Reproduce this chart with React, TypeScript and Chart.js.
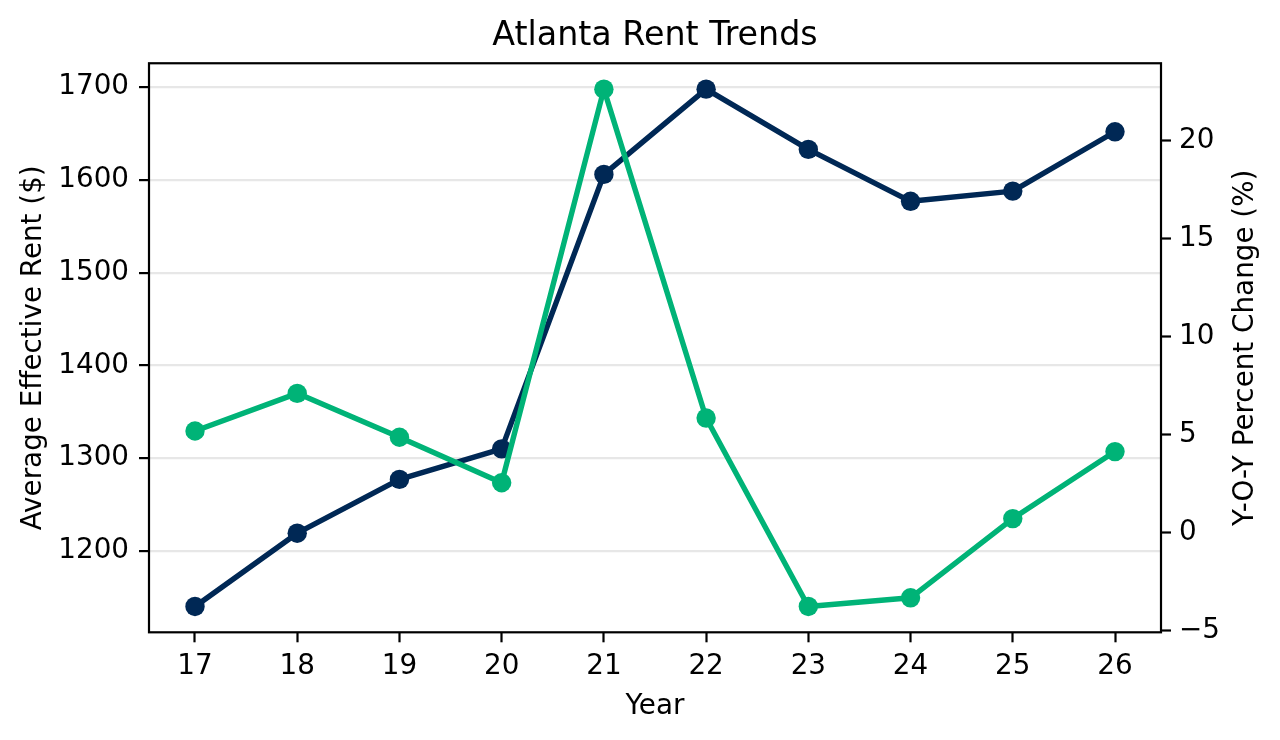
import { useEffect, useRef } from 'react';
import { Chart, registerables } from 'chart.js';
import type { Plugin } from 'chart.js';

Chart.register(...registerables);

// Datos
const years = [17, 18, 19, 20, 21, 22, 23, 24, 25, 26];
const averageRent = [1140, 1219, 1277, 1310, 1606, 1698, 1633, 1577, 1588, 1652];
const yoyChange = [5.19, 7.11, 4.87, 2.55, 22.63, 5.85, -3.76, -3.32, 0.72, 4.14];

const rentTicks = [1200, 1300, 1400, 1500, 1600, 1700];
const pctTicks = [-5, 0, 5, 10, 15, 20];
const pctTickLabels = ['\u22125', '0', '5', '10', '15', '20'];

const NAVY = '#002855';
const GREEN = '#00b377';
const FONT = 'DejaVu Sans';
const RIGHT_TITLE = 'Y-O-Y Percent Change (%)';

// margen de 5% como matplotlib
function paddedRange(values: number[]) {
	const lo = Math.min(...values);
	const hi = Math.max(...values);
	const pad = (hi - lo) * 0.05;
	return { min: lo - pad, max: hi + pad };
}

// marco negro alrededor del área del gráfico
const framePlugin: Plugin<'line'> = {
	id: 'frame',
	afterDatasetsDraw(chart) {
		const { ctx, chartArea } = chart;
		ctx.save();
		ctx.strokeStyle = '#000';
		ctx.lineWidth = 2.2;
		ctx.strokeRect(chartArea.left, chartArea.top, chartArea.right - chartArea.left, chartArea.bottom - chartArea.top);
		ctx.restore();
	},
};

// título del eje derecho, leído de abajo hacia arriba (Chart.js lo gira al revés)
const rightTitlePlugin: Plugin<'line'> = {
	id: 'rightTitle',
	afterDraw(chart) {
		const { ctx, chartArea, width } = chart;
		ctx.save();
		ctx.translate(width - 34.7, (chartArea.top + chartArea.bottom) / 2);
		ctx.rotate(-Math.PI / 2);
		ctx.font = `27.8px "${FONT}"`;
		ctx.fillStyle = '#000';
		ctx.textAlign = 'center';
		ctx.textBaseline = 'middle';
		ctx.fillText(RIGHT_TITLE, 0, 0);
		ctx.restore();
	},
};

function RentChart() {
	const canvasRef = useRef<HTMLCanvasElement | null>(null);

	useEffect(() => {
		if (!canvasRef.current) return;

		const xRange = paddedRange(years);
		const rentRange = paddedRange(averageRent);
		const pctRange = paddedRange(yoyChange);

		const tickGrid = {
			drawOnChartArea: false,
			tickColor: '#000',
			tickWidth: 2.2,
			tickLength: 10,
		};

		const chart = new Chart(canvasRef.current, {
			type: 'line',
			data: {
				datasets: [
					{
						label: 'Average Effective Rent ($)',
						data: years.map((yr, i) => ({ x: yr, y: averageRent[i] })),
						yAxisID: 'y',
						borderColor: NAVY,
						backgroundColor: NAVY,
						pointBackgroundColor: NAVY,
						borderWidth: 5.4,
						pointRadius: 9.7,
						pointBorderWidth: 0,
						borderJoinStyle: 'round',
						order: 1,
					},
					{
						label: RIGHT_TITLE,
						data: years.map((yr, i) => ({ x: yr, y: yoyChange[i] })),
						yAxisID: 'y1',
						borderColor: GREEN,
						backgroundColor: GREEN,
						pointBackgroundColor: GREEN,
						borderWidth: 5.4,
						pointRadius: 9.7,
						pointBorderWidth: 0,
						borderJoinStyle: 'round',
						order: 0,
					},
				],
			},
			options: {
				animation: false,
				responsive: true,
				maintainAspectRatio: false,
				layout: { padding: 0 },
				plugins: {
					legend: { display: false },
					tooltip: { enabled: false },
					title: {
						display: true,
						text: 'Atlanta Rent Trends',
						fullSize: false,
						color: '#000',
						font: { family: FONT, size: 33.3, weight: 'normal' },
						padding: { top: 16, bottom: 7.3 },
					},
				},
				scales: {
					x: {
						type: 'linear',
						min: xRange.min,
						max: xRange.max,
						afterBuildTicks: (scale) => {
							scale.ticks = years.map((v) => ({ value: v }));
						},
						afterFit: (scale) => {
							scale.height = 107.7;
						},
						border: { display: false },
						grid: tickGrid,
						ticks: {
							color: '#000',
							padding: 8,
							font: { family: FONT, size: 27.8 },
							callback: (v) => String(v),
						},
						title: {
							display: true,
							text: 'Year',
							color: '#000',
							font: { family: FONT, size: 27.8 },
							padding: { top: 0, bottom: 17 },
						},
					},
					y: {
						type: 'linear',
						position: 'left',
						min: rentRange.min,
						max: rentRange.max,
						afterBuildTicks: (scale) => {
							scale.ticks = rentTicks.map((v) => ({ value: v }));
						},
						afterFit: (scale) => {
							scale.width = 149;
						},
						border: { display: false },
						grid: {
							drawOnChartArea: true,
							color: 'rgba(176, 176, 176, 0.3)',
							lineWidth: 2.2,
							tickColor: '#000',
							tickWidth: 2.2,
							tickLength: 10,
						},
						ticks: {
							color: '#000',
							padding: 10,
							font: { family: FONT, size: 27.8 },
							callback: (v) => String(v),
						},
						title: {
							display: true,
							text: 'Average Effective Rent ($)',
							color: '#000',
							font: { family: FONT, size: 27.8 },
							padding: { top: 17, bottom: 0 },
						},
					},
					y1: {
						type: 'linear',
						position: 'right',
						min: pctRange.min,
						max: pctRange.max,
						afterBuildTicks: (scale) => {
							scale.ticks = pctTicks.map((v) => ({ value: v }));
						},
						afterFit: (scale) => {
							scale.width = 119;
						},
						border: { display: false },
						grid: tickGrid,
						ticks: {
							color: '#000',
							padding: 8,
							font: { family: FONT, size: 27.8 },
							callback: (v) => {
								const idx = pctTicks.indexOf(Number(v));
								return idx >= 0 ? pctTickLabels[idx] : String(v);
							},
						},
					},
				},
			},
			plugins: [framePlugin, rightTitlePlugin],
		});

		return () => {
			chart.destroy();
		};
	}, []);

	return (
		<div style={{ position: 'absolute', left: 0, top: 0, width: '1280px', height: '740px', background: '#fff' }}>
			<canvas ref={canvasRef}></canvas>
		</div>
	);
}

export default function App() {
	return <RentChart />;
}
